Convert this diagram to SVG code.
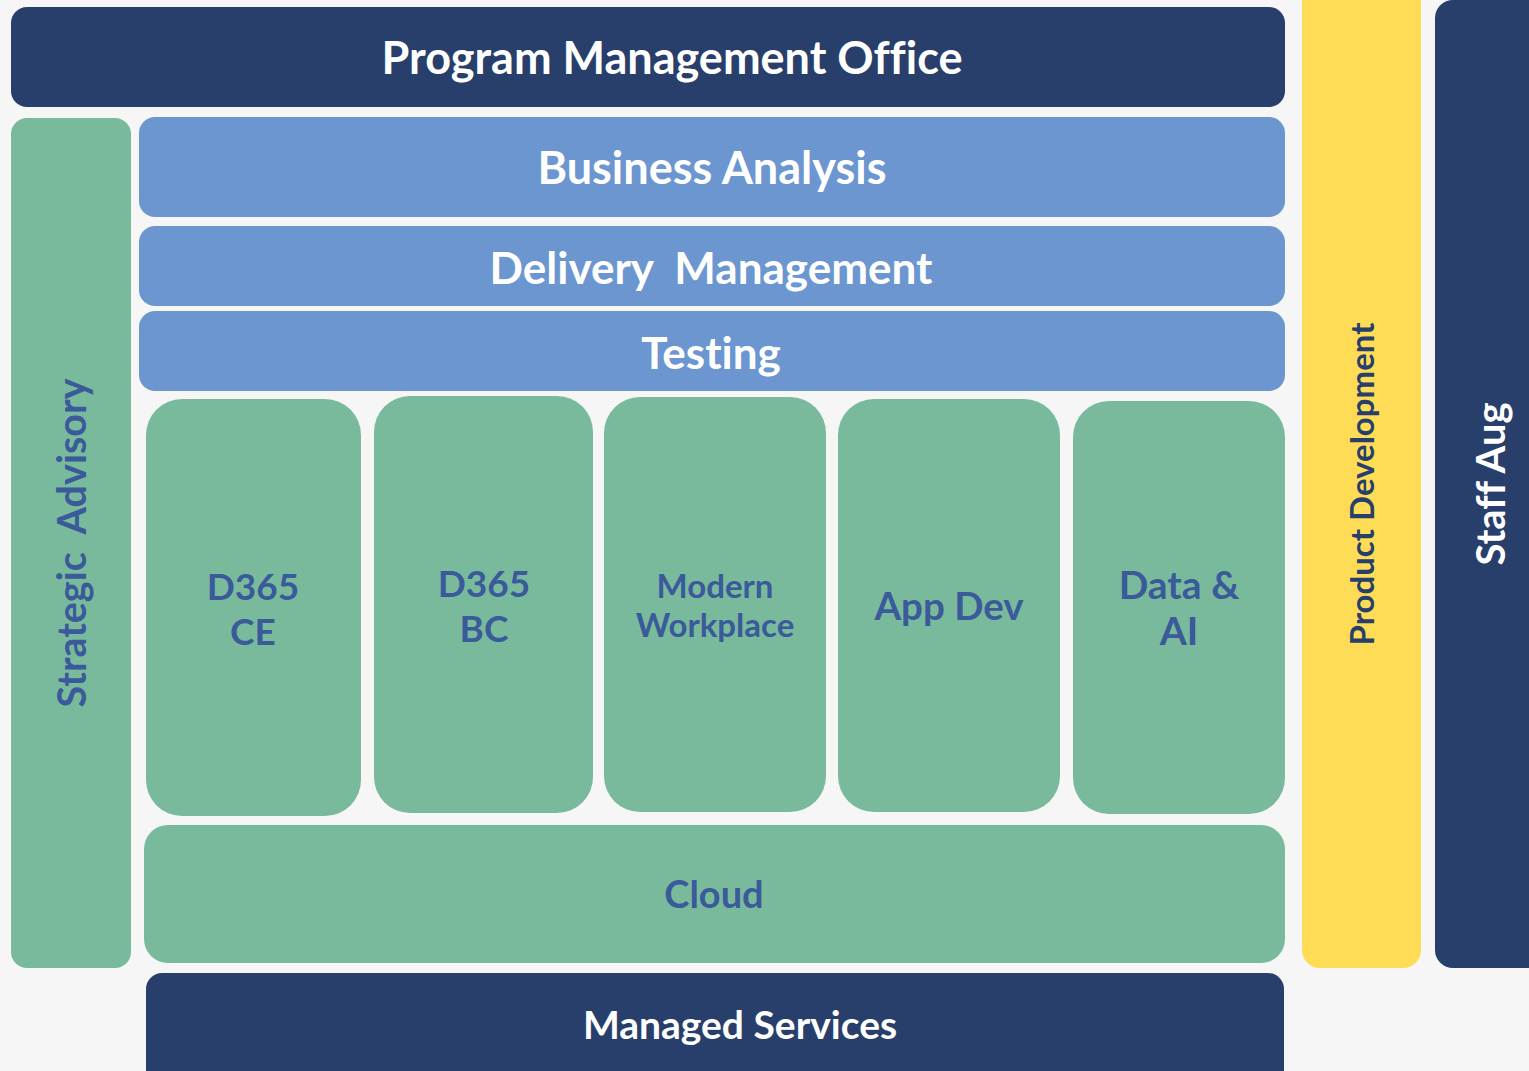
<svg xmlns="http://www.w3.org/2000/svg" width="1529" height="1071" viewBox="0 0 1529 1071">
<style>
.navy{fill:#283f6b}
.blue{fill:#6b96cf}
.green{fill:#79ba9c}
.yellow{fill:#ffdc55}
text{font-family:Lato,"Open Sans",sans-serif;font-weight:700;text-anchor:middle;white-space:pre;font-variant-ligatures:none}
.w{fill:#ffffff}
.g{fill:#3a5a9a}
.n{fill:#283f6b}
</style>
<rect x="0" y="0" width="1529" height="1071" fill="#f6f6f6"/>
<g id="pmo"><rect class="navy" x="11" y="7" width="1274" height="100" rx="16"/><text class="w" x="672" y="74" font-size="45">Program Management Office</text></g>
<g id="strategic-advisory"><rect class="green" x="11" y="118" width="120" height="850" rx="16"/><text class="g" transform="translate(86,543) rotate(-90)" font-size="39.5" xml:space="preserve">Strategic  Advisory</text></g>
<g id="business-analysis"><rect class="blue" x="139" y="117" width="1146" height="100" rx="16"/><text class="w" x="712" y="184" font-size="45">Business Analysis</text></g>
<g id="delivery-management"><rect class="blue" x="139" y="226" width="1146" height="80" rx="16"/><text class="w" x="711" y="284" font-size="44" xml:space="preserve">Delivery  Management</text></g>
<g id="testing"><rect class="blue" x="139" y="311" width="1146" height="80" rx="16"/><text class="w" x="711" y="369" font-size="44">Testing</text></g>
<g id="d365-ce"><rect class="green" x="146" y="399" width="215" height="417" rx="36"/><text class="g" font-size="37"><tspan x="253" y="600">D365</tspan><tspan x="253" y="645">CE</tspan></text></g>
<g id="d365-bc"><rect class="green" x="374" y="396" width="219" height="417" rx="36"/><text class="g" font-size="37"><tspan x="484" y="597">D365</tspan><tspan x="484" y="642">BC</tspan></text></g>
<g id="modern-workplace"><rect class="green" x="604" y="397" width="222" height="415" rx="36"/><text class="g" font-size="33"><tspan x="715" y="598">Modern</tspan><tspan x="715" y="637">Workplace</tspan></text></g>
<g id="app-dev"><rect class="green" x="838" y="399" width="222" height="413" rx="36"/><text class="g" x="949" y="620" font-size="38.5">App Dev</text></g>
<g id="data-ai"><rect class="green" x="1073" y="401" width="212" height="413" rx="36"/><text class="g" font-size="39"><tspan x="1179" y="599">Data &amp;</tspan><tspan x="1179" y="645">AI</tspan></text></g>
<g id="cloud"><rect class="green" x="144" y="825" width="1141" height="138" rx="24"/><text class="g" x="714" y="908" font-size="38">Cloud</text></g>
<g id="managed-services"><rect class="navy" x="146" y="973" width="1138" height="120" rx="16"/><text class="w" x="740" y="1039" font-size="39">Managed Services</text></g>
<g id="product-development"><rect class="yellow" x="1302" y="-20" width="119" height="988" rx="18"/><text class="n" transform="translate(1374,484) rotate(-90)" font-size="33">Product Development</text></g>
<g id="staff-aug"><rect class="navy" x="1435" y="0" width="120" height="968" rx="18"/><text class="w" transform="translate(1505,484) rotate(-90)" font-size="40">Staff Aug</text></g>
<g id="connectors"></g>
</svg>
